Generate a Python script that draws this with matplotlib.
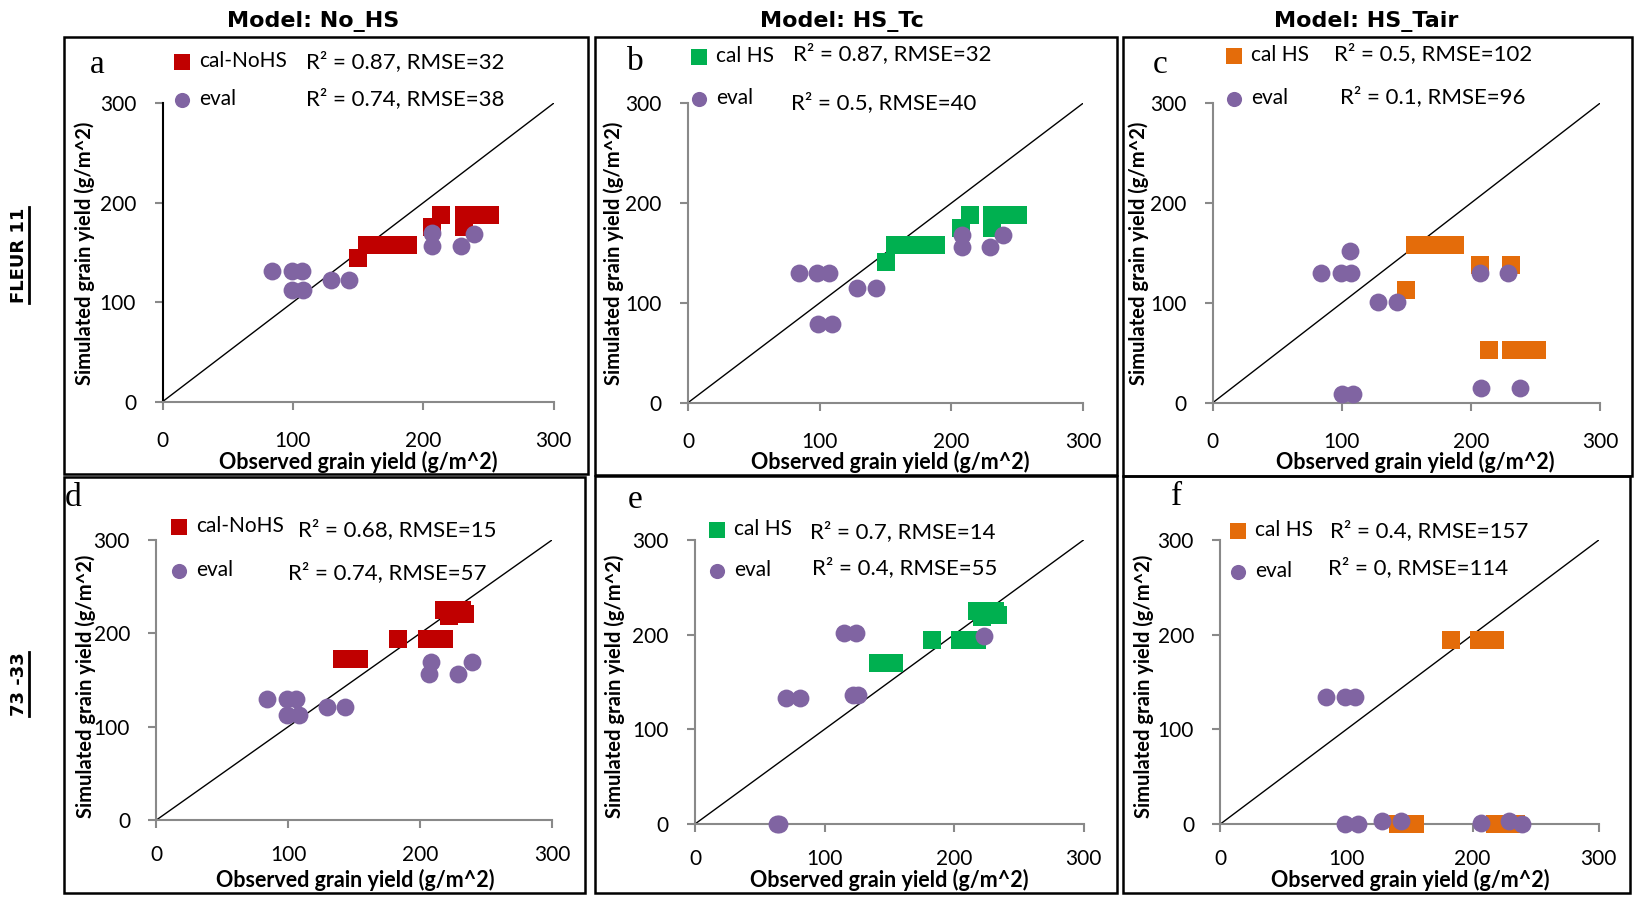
import matplotlib.pyplot as plt
from matplotlib.patches import Rectangle
from matplotlib.lines import Line2D

W, H = 1634, 897

plt.rcParams['font.family'] = ['Lato', 'DejaVu Sans']

RED = '#C00000'
GREEN = '#00B050'
ORANGE = '#E46C0A'
PURPLE = '#8064A2'
GRAY = '#898989'

# FLEUR 11: calibration and evaluation yields (g/m^2)
fleur_cal_obs = [150, 157, 164, 172, 180, 188, 207, 214, 231, 231, 238, 245, 251]
a_cal_sim = [144, 158, 158, 158, 158, 158, 176, 188, 176, 188, 188, 188, 188]
b_cal_sim = [141, 158, 158, 158, 158, 158, 175, 188, 175, 188, 188, 188, 188]
c_cal_sim = [113, 158, 158, 158, 158, 158, 138, 53, 138, 53, 53, 53, 53]

a_eval_obs = [84, 99, 107, 99, 108, 129, 143, 207, 207, 229, 239]
a_eval_sim = [131, 131, 131, 112, 112, 122, 122, 170, 157, 157, 169]
b_eval_obs = [84, 98, 107, 99, 109, 128, 143, 208, 208, 229, 239]
b_eval_sim = [130, 130, 130, 79, 79, 115, 115, 168, 156, 156, 168]
c_eval_obs = [84, 99, 107, 106, 100, 109, 128, 143, 207, 229, 208, 238]
c_eval_sim = [130, 130, 130, 152, 9, 9, 101, 101, 130, 130, 15, 15]

# 73-33
line_cal_obs = [141, 147, 154, 183, 205, 212, 218, 218, 222, 226, 232, 234]
d_cal_sim = [172, 172, 172, 194, 194, 194, 194, 225, 219, 225, 225, 221]
e_cal_sim = [170, 170, 170, 194, 194, 194, 194, 225, 219, 225, 225, 221]
f_cal_sim = [0, 0, 0, 194, 194, 194, 194, 0, 0, 0, 0, 0]

d_eval_obs = [84, 99, 106, 99, 108, 129, 143, 208, 207, 229, 239]
d_eval_sim = [130, 130, 130, 112, 112, 121, 121, 169, 156, 156, 169]
e_eval_obs = [63, 65, 70, 81, 115, 124, 122, 126, 223]
e_eval_sim = [0, 0, 133, 133, 202, 202, 136, 136, 199]
f_eval_obs = [84, 99, 107, 99, 109, 128, 143, 207, 229, 239]
f_eval_sim = [134, 134, 134, 0, 0, 3, 3, 1, 3, 0]

# fit statistics: (R², RMSE) for calibration and evaluation
a_stats = [(0.87, 32), (0.74, 38)]
b_stats = [(0.87, 32), (0.5, 40)]
c_stats = [(0.5, 102), (0.1, 96)]
d_stats = [(0.68, 15), (0.74, 57)]
e_stats = [(0.7, 14), (0.4, 55)]
f_stats = [(0.4, 157), (0, 114)]

col_titles = ['Model: No_HS', 'Model: HS_Tc', 'Model: HS_Tair']
row_titles = ['FLEUR 11', '73 -33']
ticks = [0, 100, 200, 300]


def fx(px):
    return px / W


def fy(py):
    return 1 - py / H


fig = plt.figure(figsize=(W / 100, H / 100), dpi=100)

panels = [
    dict(ax=(162.5, 553.6, 401.7, 103.3), box=(63.6, 37, 588, 474), letter='a', lxy=(97, 65),
         cal=(fleur_cal_obs, a_cal_sim), ev=(a_eval_obs, a_eval_sim), color=RED, label='cal-NoHS',
         leg=(182, 64, 103), stats=a_stats, sxy=[(306, 62), (306, 99)], ylx=84.6, xlx=358, row=0),
    dict(ax=(688, 1083, 402.7, 103.3), box=(595, 37, 1116.8, 475), letter='b', lxy=(635, 62),
         cal=(fleur_cal_obs, b_cal_sim), ev=(b_eval_obs, b_eval_sim), color=GREEN, label='cal HS',
         leg=(699, 59, 102), stats=b_stats, sxy=[(793, 54), (791, 103)], ylx=614, xlx=890, row=0),
    dict(ax=(1212.8, 1599.9, 402.7, 103.3), box=(1123, 37, 1632, 476), letter='c', lxy=(1160, 65),
         cal=(fleur_cal_obs, c_cal_sim), ev=(c_eval_obs, c_eval_sim), color=ORANGE, label='cal HS',
         leg=(1234, 58, 102), stats=c_stats, sxy=[(1334, 54), (1340, 97)], ylx=1139, xlx=1415, row=0),
    dict(ax=(156.4, 552, 820, 540), box=(63.6, 477, 585, 893), letter='d', lxy=(73, 498),
         cal=(line_cal_obs, d_cal_sim), ev=(d_eval_obs, d_eval_sim), color=RED, label='cal-NoHS',
         leg=(179, 529, 574), stats=d_stats, sxy=[(298, 530), (288, 573)], ylx=86, xlx=355, row=1),
    dict(ax=(695, 1083.5, 824, 540), box=(595, 476, 1117, 893), letter='e', lxy=(635, 500),
         cal=(line_cal_obs, e_cal_sim), ev=(e_eval_obs, e_eval_sim), color=GREEN, label='cal HS',
         leg=(717, 532, 574), stats=e_stats, sxy=[(810, 532), (812, 568)], ylx=615, xlx=889, row=1),
    dict(ax=(1220.4, 1598.8, 824, 540), box=(1123, 476, 1630, 893), letter='f', lxy=(1177, 497),
         cal=(line_cal_obs, f_cal_sim), ev=(f_eval_obs, f_eval_sim), color=ORANGE, label='cal HS',
         leg=(1238, 533, 575), stats=f_stats, sxy=[(1330, 531), (1328, 568)], ylx=1144, xlx=1410, row=1),
]

row_ylab_y = [253, 686]
row_xlab_y = [462, 880]
row_xtick_pad = [15, 12]

for p in panels:
    x0, x1, y0, y1 = p['ax']
    ax = fig.add_axes([fx(x0), fy(y0), fx(x1) - fx(x0), fy(y1) - fy(y0)])
    ax.set_xlim(0, 300)
    ax.set_ylim(0, 300)
    ax.set_xticks(ticks)
    ax.set_yticks(ticks)
    for side in ('top', 'right'):
        ax.spines[side].set_visible(False)
    for side in ('left', 'bottom'):
        ax.spines[side].set_color(GRAY)
        ax.spines[side].set_linewidth(1.5)
    if p['letter'] == 'a':
        ax.spines['left'].set_color('black')
    ax.tick_params(axis='both', direction='out', length=6, width=1.5, color=GRAY,
                   labelsize=15, labelcolor='black')
    ax.tick_params(axis='x', pad=row_xtick_pad[p['row']])
    ax.tick_params(axis='y', pad=13)
    ax.patch.set_alpha(0)

    ax.plot([0, 300], [0, 300], color='black', lw=1.0, zorder=2)
    cal = ax.scatter(p['cal'][0], p['cal'][1], marker='s', s=185, color=p['color'],
                     linewidths=0, zorder=3, clip_on=False, label=p['label'])
    ev = ax.scatter(p['ev'][0], p['ev'][1], marker='o', s=165, color=PURPLE,
                    linewidths=0, zorder=4, clip_on=False, label='eval')

    # legend keys, stacked above the plotting area
    lx, ly1, ly2 = p['leg']
    fs = 15 * 100 / 72
    gap = (ly2 - ly1 - fs) / fs
    ax.legend(handles=[cal, ev], loc='upper left', frameon=False, fontsize=15,
              bbox_to_anchor=(fx(lx - fs / 2), fy(ly1 - fs * 0.62)),
              bbox_transform=fig.transFigure, borderpad=0, borderaxespad=0,
              handlelength=1.0, handletextpad=0.3, labelspacing=gap, markerscale=0.85)

    for (sx, sy), (r2, rmse) in zip(p['sxy'], p['stats']):
        fig.text(fx(sx), fy(sy), f'R\u00b2 = {r2:g}, RMSE={rmse}', fontsize=16,
                 ha='left', va='center')

    fig.text(fx(p['lxy'][0]), fy(p['lxy'][1]), p['letter'], fontsize=24,
             family='Liberation Serif', ha='center', va='center')
    fig.text(fx(p['ylx']), fy(row_ylab_y[p['row']]), 'Simulated grain yield (g/m^2)',
             fontsize=14.5, fontweight='bold', rotation=90, ha='center', va='center')
    fig.text(fx(p['xlx']), fy(row_xlab_y[p['row']]), 'Observed grain yield (g/m^2)',
             fontsize=15.5, fontweight='bold', ha='center', va='center')

    bx0, by0, bx1, by1 = p['box']
    fig.add_artist(Rectangle((fx(bx0), fy(by1)), fx(bx1) - fx(bx0), fy(by0) - fy(by1),
                             fill=False, lw=1.8, edgecolor='black', transform=fig.transFigure))

for title, cx in zip(col_titles, [313, 842, 1366]):
    fig.text(fx(cx), fy(21), title, fontsize=16, fontweight='bold',
             family='DejaVu Sans', ha='center', va='center')

row_texts = []
for title, cy in zip(row_titles, [255, 684]):
    t = fig.text(fx(19), fy(cy), title, fontsize=13, fontweight='bold',
                 family='DejaVu Sans', rotation=90, ha='center', va='center')
    row_texts.append(t)

# underline the rotated row titles (baseline sits on the right side)
fig.canvas.draw()
for t in row_texts:
    bb = t.get_window_extent()
    ux = bb.x1 + 1
    fig.add_artist(Line2D([ux / W, ux / W], [bb.y0 / H, bb.y1 / H], color='black', lw=2,
                          transform=fig.transFigure))

fig.savefig('out.png', dpi=100)
